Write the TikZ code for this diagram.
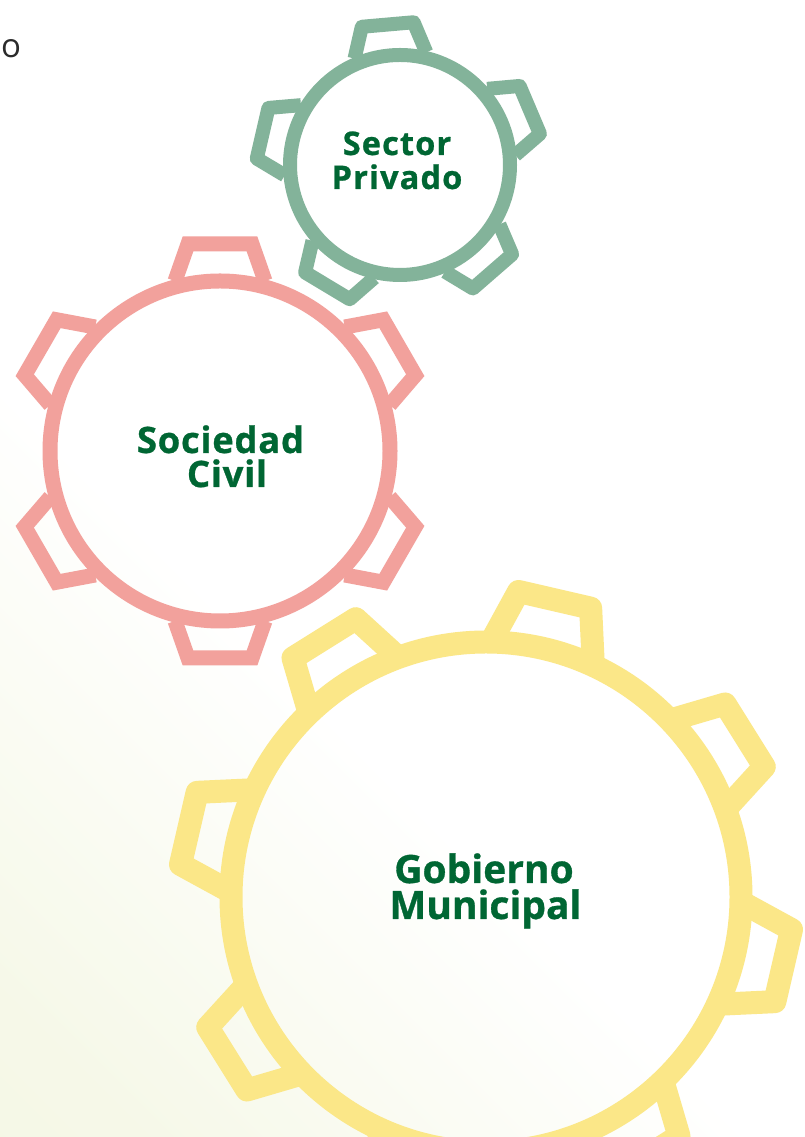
\documentclass[tikz,border=0pt]{standalone}
\usepackage{fontspec}
\newfontfamily\greenfont[LetterSpace=3.5, FakeBold=0.8]{Open Sans}
\newfontfamily\pinkfont[LetterSpace=2, FakeBold=0.8]{Open Sans}
\newfontfamily\yellowfont[LetterSpace=0, FakeBold=0.8]{Open Sans}
\newfontfamily\plainfont{Open Sans}
\definecolor{gGreen}{HTML}{83B39A}
\definecolor{gPink}{HTML}{F2A19C}
\definecolor{gYellow}{HTML}{FBE788}
\definecolor{txtGreen}{HTML}{006633}
\definecolor{bgCream}{HTML}{F3F6E1}
\definecolor{txtGray}{HTML}{2B2B2B}
\pgfdeclareverticalshading{bgshade}{100bp}{color(0bp)=(bgCream); color(20bp)=(bgCream!75!white); color(42bp)=(white); color(100bp)=(white)}
\tikzset{
  lbl/.style={inner sep=0pt, anchor=base, text=txtGreen},
  greengear/.style={draw=gGreen, line width=14pt, line join=round},
  pinkgear/.style={draw=gPink, line width=15pt, line join=miter},
  yellowgear/.style={draw=gYellow, line width=23pt, line join=round},
}
\begin{document}
\begin{tikzpicture}[x=1pt,y=1pt]
\useasboundingbox (0,0) rectangle (805,1137);
\shade[shading=bgshade, shading angle=-45] (0,0) rectangle (805,1137);

% green gear (Sector Privado)
\coordinate (cg) at (400,972);
\draw[greengear] (cg) circle[radius=110];
\foreach \a in {23,95,167,239,311}{
  \draw[greengear, shift={(cg)}, rotate=\a] (110,36) -- (141,26) -- (141,-26) -- (110,-36);
}

% pink gear (Sociedad Civil)
\coordinate (cp) at (220,686);
\draw[pinkgear] (cp) circle[radius=170];
\foreach \a in {30,90,150,210,270,330}{
  \draw[pinkgear, shift={(cp)}, rotate=\a] (170,45) -- (207,32) -- (207,-32) -- (170,-45);
}

% yellow gear (Gobierno Municipal)
\coordinate (cy) at (486,240);
\draw[yellowgear] (cy) circle[radius=255];
\foreach \a in {32,77,122,167,212,257,302,347}{
  \draw[yellowgear, shift={(cy)}, rotate=\a] (255,51) -- (305,37) -- (305,-37) -- (255,-51);
}

% labels
\node[lbl, font=\greenfont\bfseries\fontsize{32.5}{34}\selectfont] (sp1) at (397,982) {Sector};
\node[lbl, font=\greenfont\bfseries\fontsize{32.5}{34}\selectfont] (sp2) at (397,948) {Privado};
\node[lbl, font=\pinkfont\bfseries\fontsize{36.4}{38}\selectfont] (sc1) at (220.5,684) {Sociedad};
\node[lbl, font=\pinkfont\bfseries\fontsize{36.4}{38}\selectfont] (sc2) at (227,650) {Civil};
\node[lbl, font=\yellowfont\bfseries\fontsize{39}{41}\selectfont] (gm1) at (484,254) {Gobierno};
\node[lbl, font=\yellowfont\bfseries\fontsize{39}{41}\selectfont] (gm2) at (485.5,218) {Municipal};
\node[inner sep=0pt, anchor=base, text=txtGray, font=\plainfont\fontsize{33}{35}\selectfont] (o) at (11,1079) {o};
\end{tikzpicture}
\end{document}
